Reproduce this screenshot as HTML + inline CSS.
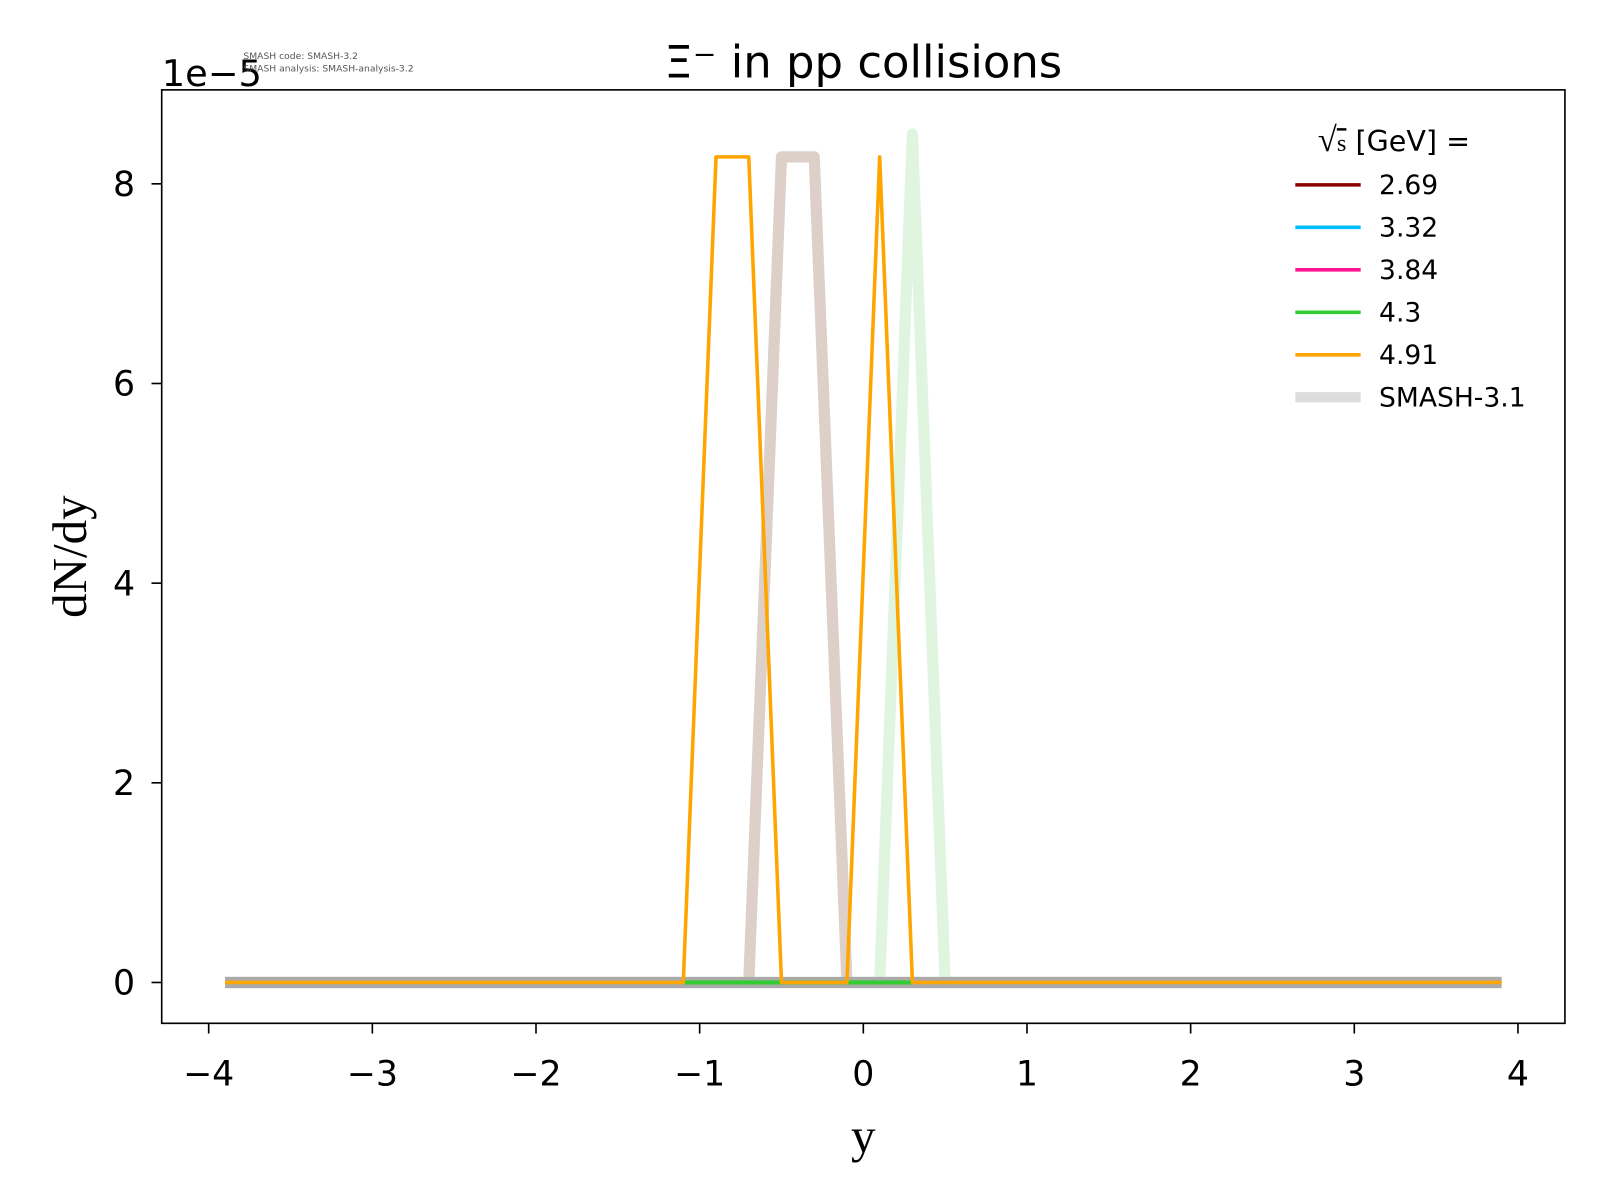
<!DOCTYPE html>
<html><head><meta charset="utf-8"><style>
body{margin:0;background:#fff;}
svg{display:block;font-family:"DejaVu Sans","Liberation Sans",sans-serif;}
</style></head><body>
<svg id="chart" width="1600" height="1200" viewBox="0 0 1566 1175" xmlns="http://www.w3.org/2000/svg">
<rect width="1566" height="1175" fill="#fff"/>
<text x="845" y="76" font-size="44" text-anchor="middle">Ξ⁻ in pp collisions</text>
<text x="158" y="84" font-size="36">1e−5</text>
<text x="238" y="58" font-size="9" fill="#555">SMASH code:      SMASH-3.2</text>
<text x="238" y="70" font-size="9" fill="#555">SMASH analysis: SMASH-analysis-3.2</text>
<g id="plot"></g>
<g id="axes"></g>
<text x="845" y="1128" font-size="48" text-anchor="middle" font-family="Liberation Serif, serif">y</text>
<text transform="translate(84,545) rotate(-90)" font-size="48" text-anchor="middle" font-family="Liberation Serif, serif">dN/dy</text>
<g>
<text x="1290" y="148" font-size="28"><tspan font-family="Liberation Serif, serif" font-size="34">√</tspan><tspan font-family="Liberation Serif, serif" font-size="24" text-decoration="overline">s</tspan>  [GeV] =</text>
</g>
<g id="legend-entries"></g>
</svg>
<script>
const xs = [-3.9,-3.7,-3.5,-3.3,-3.1,-2.9,-2.7,-2.5,-2.3,-2.1,-1.9,-1.7,-1.5,-1.3,-1.1,-0.9,-0.7,-0.5,-0.3,-0.1,0.1,0.3,0.5,0.7,0.9,1.1,1.3,1.5,1.7,1.9,2.1,2.3,2.5,2.7,2.9,3.1,3.3,3.5,3.7,3.9];
const zeros = xs.map(()=>0);
const tanVals = xs.map(x=>(Math.abs(x+0.5)<0.01||Math.abs(x+0.3)<0.01)?8.27:0);
const greenThickVals = xs.map(x=>Math.abs(x-0.3)<0.01?8.5:0);
const orangeVals = xs.map(x=>(Math.abs(x+0.9)<0.01||Math.abs(x+0.7)<0.01||Math.abs(x-0.1)<0.01)?8.27:0);
const greenX = [-1.1,-0.9,-0.7,-0.5,-0.3,-0.1,0.1,0.3];
const greenVals = [0,0,0,0,0,0,0,0];
const xTicks = [-4,-3,-2,-1,0,1,2,3,4];
const yTicks = [0,2,4,6,8];
const legendLabels = ["2.69","3.32","3.84","4.3","4.91","SMASH-3.1"];
const legendColors = ["#8b0000","#00bfff","#ff1493","#32cd32","#ffa500","#dddddd"];

const L=158,R=1532,T=88,B=1002;
const X=v=>845+v*160.25;
const Y=v=>962-v*97.75;
const NS="http://www.w3.org/2000/svg";
const plot=document.getElementById('plot');
function line(xa,ya,color,w,name,op){
  const p=document.createElementNS(NS,'polyline');
  p.setAttribute('points',xa.map((x,i)=>X(x)+','+Y(ya[i])).join(' '));
  p.setAttribute('fill','none');p.setAttribute('stroke',color);p.setAttribute('stroke-width',w);
  p.setAttribute('stroke-linejoin','round');
  if(op)p.setAttribute('opacity',op);
  
  
  plot.appendChild(p);
}
line(xs,tanVals,"#dcd0c8",11,"series-smash-3.1-tan");
line(xs,greenThickVals,"#dff5df",11,"series-smash-3.1-green");
line(xs,zeros,"#aaaaaa",11,"series-smash-3.1-baseline");
line(greenX,greenVals,"#32cd32",4,"series-4.3");
line(xs,orangeVals,"#ffa500",3.5,"series-4.91");

const ax=document.getElementById('axes');
const fr=document.createElementNS(NS,'rect');
fr.setAttribute('x',L);fr.setAttribute('y',T);fr.setAttribute('width',R-L);fr.setAttribute('height',B-T);
fr.setAttribute('fill','none');fr.setAttribute('stroke','#000');fr.setAttribute('stroke-width','1.6');


ax.appendChild(fr);
xTicks.forEach(t=>{
  const l=document.createElementNS(NS,'line');
  l.setAttribute('x1',X(t));l.setAttribute('x2',X(t));l.setAttribute('y1',B);l.setAttribute('y2',B+10);l.setAttribute('stroke','#000');l.setAttribute('stroke-width','1.6');
  
  
  ax.appendChild(l);
  const s=document.createElementNS(NS,'text');
  s.setAttribute('x',X(t));s.setAttribute('y',1063);s.setAttribute('font-size','34');s.setAttribute('text-anchor','middle');
  s.textContent=t<0?'−'+Math.abs(t):String(t);
  
  
  ax.appendChild(s);
});
yTicks.forEach(t=>{
  const l=document.createElementNS(NS,'line');
  l.setAttribute('x1',L-10);l.setAttribute('x2',L);l.setAttribute('y1',Y(t));l.setAttribute('y2',Y(t));l.setAttribute('stroke','#000');l.setAttribute('stroke-width','1.6');
  
  
  ax.appendChild(l);
  const s=document.createElementNS(NS,'text');
  s.setAttribute('x',132);s.setAttribute('y',Y(t)+12);s.setAttribute('font-size','34');s.setAttribute('text-anchor','end');
  s.textContent=String(t);
  
  
  ax.appendChild(s);
});
const lg=document.getElementById('legend-entries');
legendLabels.forEach((lab,i)=>{
  const y=181+i*41.6;
  const l=document.createElementNS(NS,'line');
  l.setAttribute('x1',1268);l.setAttribute('x2',1332);l.setAttribute('y1',y);l.setAttribute('y2',y);
  l.setAttribute('stroke',legendColors[i]);l.setAttribute('stroke-width',i==5?10:3.5);
  
  
  lg.appendChild(l);
  const s=document.createElementNS(NS,'text');
  s.setAttribute('x',1350);s.setAttribute('y',y+9);s.setAttribute('font-size','26');
  s.textContent=lab;
  
  
  lg.appendChild(s);
});
</script>
</body></html>
